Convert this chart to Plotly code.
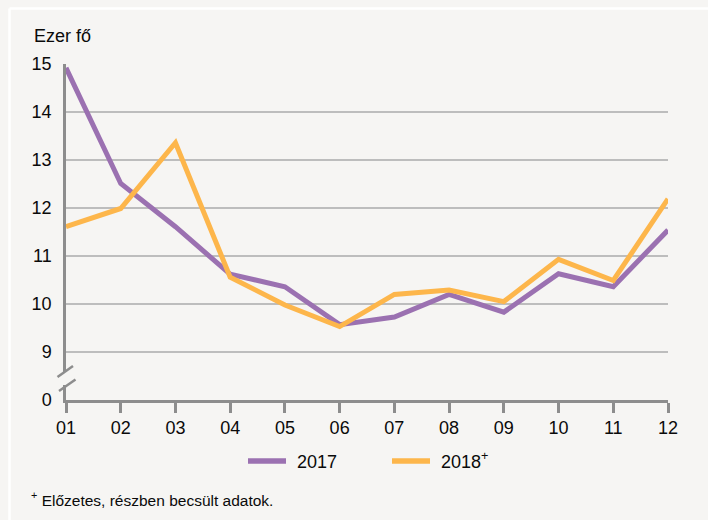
import plotly.graph_objects as go

months = ["01", "02", "03", "04", "05", "06", "07", "08", "09", "10", "11", "12"]
y2017 = [14.92, 12.51, 11.61, 10.62, 10.36, 9.57, 9.73, 10.2, 9.83, 10.63, 10.36, 11.54]
y2018 = [11.61, 11.99, 13.36, 10.56, 9.98, 9.53, 10.2, 10.29, 10.05, 10.93, 10.49, 12.19]
ytick_vals = [8, 9, 10, 11, 12, 13, 14, 15]
ytick_text = ["0", "9", "10", "11", "12", "13", "14", "15"]
series_names = ["2017", "2018<sup>+</sup>"]
footnote = "<sup>+</sup> Előzetes, részben becsült adatok."
y_title = "Ezer fő"

PURPLE = "#9b71b1"
ORANGE = "#fdb64b"
BG = "#f6f5f3"
AXIS = "#8d8d8d"
GRID = "#bdbdbd"
TXT = "#0a0a0a"
FONT = "Liberation Sans, Arial, sans-serif"
FS = 18

W, H = 708, 520
L, R, T, B = 66, 40, 64, 120
PW, PH = W - L - R, H - T - B


def px(x):
    return (x - L) / PW


def py(y):
    return (H - B - y) / PH


xs = list(range(1, 13))
fig = go.Figure()
fig.add_trace(go.Scatter(x=xs, y=y2017, mode="lines", name=series_names[0],
                         line=dict(color=PURPLE, width=5), showlegend=False))
fig.add_trace(go.Scatter(x=xs, y=y2018, mode="lines", name=series_names[1],
                         line=dict(color=ORANGE, width=5), showlegend=False))

shapes = []
# white frame lines
shapes.append(dict(type="line", xref="paper", yref="paper", x0=px(9.5), x1=px(708), y0=py(8.5), y1=py(8.5),
                   line=dict(color="white", width=2.5)))
shapes.append(dict(type="line", xref="paper", yref="paper", x0=px(9.5), x1=px(9.5), y0=py(8.5), y1=py(520),
                   line=dict(color="white", width=2.5)))
# axis break
shapes.append(dict(type="rect", xref="paper", yref="paper", x0=px(62), x1=px(70), y0=py(372), y1=py(385),
                   fillcolor=BG, line=dict(width=0)))
shapes.append(dict(type="line", xref="paper", yref="paper", x0=px(57.5), y0=py(377), x1=px(73), y1=py(366),
                   line=dict(color=AXIS, width=2.5)))
shapes.append(dict(type="line", xref="paper", yref="paper", x0=px(59), y0=py(391), x1=px(75.5), y1=py(379.5),
                   line=dict(color=AXIS, width=2.5)))
# legend lines
shapes.append(dict(type="line", xref="paper", yref="paper", x0=px(248), x1=px(286), y0=py(461), y1=py(461),
                   line=dict(color=PURPLE, width=5.5)))
shapes.append(dict(type="line", xref="paper", yref="paper", x0=px(392), x1=px(430), y0=py(461), y1=py(461),
                   line=dict(color=ORANGE, width=5.5)))

annotations = [
    dict(text=y_title, xref="paper", yref="paper", x=px(32), y=py(36), xanchor="left", yanchor="middle",
         showarrow=False, font=dict(size=FS, color=TXT, family=FONT)),
    dict(text=series_names[0], xref="paper", yref="paper", x=px(295), y=py(462), xanchor="left", yanchor="middle",
         showarrow=False, font=dict(size=FS, color=TXT, family=FONT)),
    dict(text=series_names[1], xref="paper", yref="paper", x=px(439), y=py(460), xanchor="left", yanchor="middle",
         showarrow=False, font=dict(size=FS, color=TXT, family=FONT)),
    dict(text=footnote, xref="paper", yref="paper", x=px(29), y=py(499), xanchor="left", yanchor="middle",
         showarrow=False, font=dict(size=15.5, color=TXT, family=FONT)),
]

fig.update_layout(
    width=W, height=H,
    margin=dict(l=L, r=R, t=T, b=B),
    paper_bgcolor=BG, plot_bgcolor=BG,
    font=dict(family=FONT, size=FS, color=TXT),
    shapes=shapes, annotations=annotations,
    xaxis=dict(range=[1, 12], tickvals=xs, ticktext=months, showgrid=False, zeroline=False,
               showline=True, linecolor=AXIS, linewidth=2.5, ticks="outside", ticklen=10,
               tickwidth=2.5, tickcolor=AXIS, tickfont=dict(size=FS)),
    yaxis=dict(range=[8, 15], tickvals=ytick_vals, ticktext=ytick_text, showgrid=True,
               gridcolor=GRID, gridwidth=1.5, zeroline=False, showline=True, linecolor=AXIS,
               linewidth=2.5, ticks="", ticklabelstandoff=8, tickfont=dict(size=FS)),
)

fig.write_html("out.html", config={"displayModeBar": False},
               post_script="document.body.style.margin='0';document.body.style.background='%s';" % BG)
